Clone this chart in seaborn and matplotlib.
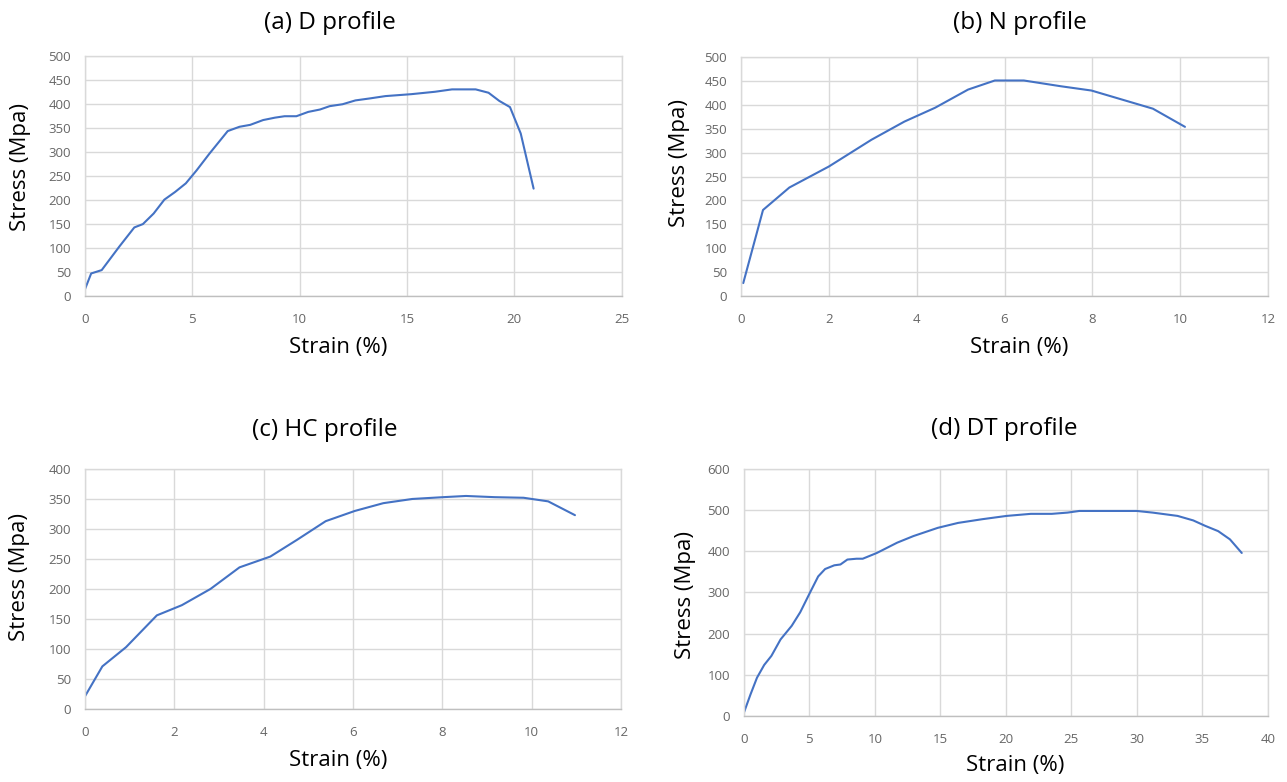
import numpy as np
import pandas as pd
import matplotlib
matplotlib.use("Agg")
import matplotlib.pyplot as plt
import seaborn as sns

# (a) D profile
d_strain = [0, 0.29, 0.78, 1.6, 2.3, 2.7, 3.2, 3.7, 4.2, 4.7, 5.2, 5.8, 6.65, 7.2, 7.7,
            8.3, 8.85, 9.3, 9.85, 10.4, 10.95, 11.4, 12.0, 12.6, 13.25, 14.0, 15.2, 16.3,
            17.1, 18.2, 18.8, 19.3, 19.8, 20.3, 20.9]
d_stress = [14, 47, 54, 103, 143, 150, 172, 201, 217, 235, 262, 297, 344, 353, 357,
            367, 372, 375, 375, 384, 389, 396, 400, 408, 412, 417, 421, 426,
            431, 431, 424, 407, 394, 339, 224]

# (b) N profile
n_strain = [0.05, 0.5, 1.1, 2.0, 2.97, 3.72, 4.42, 5.17, 5.78, 6.44, 7.28, 7.98, 8.68, 9.38, 10.11]
n_stress = [27, 180, 227, 271, 327, 365, 394, 432, 451, 451, 439, 430, 411, 392, 354]

# (c) HC profile
hc_strain = [0, 0.39, 0.92, 1.61, 2.17, 2.81, 3.46, 4.15, 4.75, 5.39, 6.04, 6.68, 7.33,
             8.02, 8.53, 9.17, 9.82, 10.37, 10.97]
hc_stress = [21, 71, 103, 156, 173, 200, 236, 254, 282, 313, 330, 343, 350,
             353, 355, 353, 352, 346, 323]

# (d) DT profile
dt_strain = [0, 0.5, 1.0, 1.55, 2.1, 2.8, 3.65, 4.3, 5.05, 5.67, 6.2, 6.9, 7.37, 7.9, 8.6,
             9.07, 10.15, 11.7, 12.94, 14.8, 16.35, 18.2, 20.06, 21.9, 23.5, 24.7, 25.6,
             30.0, 31.2, 33.1, 34.3, 35.2, 36.2, 37.1, 38.0]
dt_stress = [8, 52, 93, 124, 146, 186, 219, 252, 300, 339, 357, 366, 368, 380, 382,
             382, 396, 421, 437, 457, 469, 478, 486, 491, 491, 494, 498,
             498, 494, 486, 475, 462, 449, 429, 396]

sns.set_theme(style="whitegrid")
plt.rcParams['font.family'] = ['Open Sans', 'DejaVu Sans']

line_color = "#4472C4"
tick_color = "#666666"
grid_color = "#D9D9D9"

fig = plt.figure(figsize=(12.87, 7.82), dpi=100)

panels = [
    # data, axes rect, x range/step, y range/step, title pos, xlabel pos, ylabel pos, title
    (d_strain, d_stress, [0.066, 0.6215, 0.417, 0.3065], (0, 25, 5), (0, 500, 50),
     (0.2565, 0.971), (0.263, 0.556), (0.016, 0.786), "(a) D profile"),
    (n_strain, n_stress, [0.5758, 0.6215, 0.4094, 0.3055], (0, 12, 2), (0, 500, 50),
     (0.7925, 0.971), (0.792, 0.556), (0.528, 0.792), "(b) N profile"),
    (hc_strain, hc_stress, [0.066, 0.0934, 0.4165, 0.3069], (0, 12, 2), (0, 400, 50),
     (0.2525, 0.45), (0.263, 0.027), (0.015, 0.262), "(c) HC profile"),
    (dt_strain, dt_stress, [0.578, 0.0844, 0.4072, 0.3159], (0, 40, 5), (0, 600, 100),
     (0.780, 0.452), (0.789, 0.0205), (0.533, 0.239), "(d) DT profile"),
]

for xs, ys, rect, xl, yl, tpos, xpos, ypos, title in panels:
    ax = fig.add_axes(rect)
    df = pd.DataFrame({"strain": xs, "stress": ys})
    sns.lineplot(data=df, x="strain", y="stress", ax=ax, sort=False,
                 color=line_color, linewidth=1.5)
    ax.set_xlim(xl[0], xl[1])
    ax.set_ylim(yl[0], yl[1])
    ax.set_xticks(np.arange(xl[0], xl[1] + 0.001, xl[2]))
    ax.set_yticks(np.arange(yl[0], yl[1] + 0.001, yl[2]))
    ax.set_xlabel("")
    ax.set_ylabel("")
    ax.grid(True, color=grid_color, linewidth=1.0)
    for side in ["top", "right", "left"]:
        ax.spines[side].set_color(grid_color)
        ax.spines[side].set_linewidth(1.0)
    ax.spines["bottom"].set_color("#BFBFBF")
    ax.spines["bottom"].set_linewidth(1.0)
    ax.tick_params(axis="x", colors=tick_color, labelsize=9.5, length=0, pad=12)
    ax.tick_params(axis="y", colors=tick_color, labelsize=9.5, length=0, pad=10)
    fig.text(tpos[0], tpos[1], title, ha="center", va="center", fontsize=17.5, color="black")
    fig.text(xpos[0], xpos[1], "Strain (%)", ha="center", va="center", fontsize=16, color="black")
    fig.text(ypos[0], ypos[1], "Stress (Mpa)", ha="center", va="center", fontsize=16,
             color="black", rotation=90)

fig.savefig("out.png", dpi=100, facecolor="white")
